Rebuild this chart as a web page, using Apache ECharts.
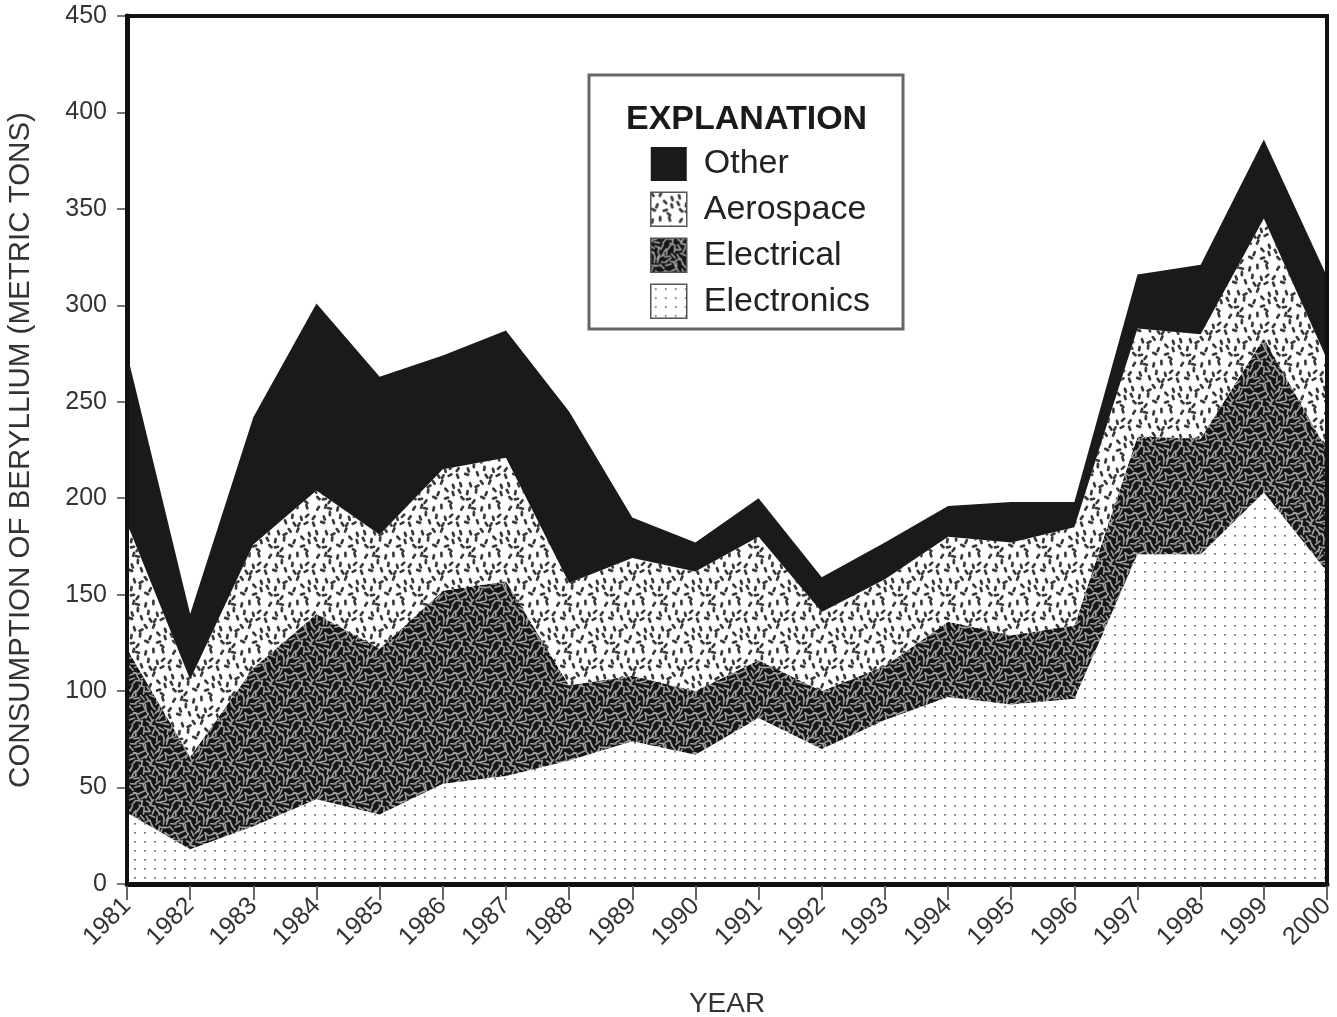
<!DOCTYPE html>
<html>
<head>
<meta charset="utf-8">
<script src="https://cdn.jsdelivr.net/npm/echarts@6/dist/echarts.min.js"></script>
<style>
html,body{margin:0;padding:0;background:#fff;}
#chart{width:1337px;height:1017px;}
</style>
</head>
<body>
<div id="chart"></div>
<script>
// ---- data (metric tons) ----
const years = ['1981','1982','1983','1984','1985','1986','1987','1988','1989','1990',
               '1991','1992','1993','1994','1995','1996','1997','1998','1999','2000'];
const electronics = [37,18,30,44,36,52,56,64,74,67,86,70,85,97,93,96,171,171,203,162];
const electrical  = [85,48,82,96,86,100,101,39,34,33,30,30,28,39,36,38,61,60,80,63];
const aerospace   = [65,40,64,64,59,63,64,53,61,62,64,41,45,44,48,51,56,54,62,47];
const other       = [88,34,66,97,82,59,66,89,21,15,20,18,19,16,21,13,28,36,41,43];
const legendOrder = ['Other','Aerospace','Electrical','Electronics'];

// ---- layout constants ----
const GRID = {left:127, right:10, top:16, bottom:133};
const W = 1337, H = 1017;
const FONT = '"Liberation Sans", Arial, Helvetica, sans-serif';

// ---- textures (deterministic) ----
function hash(n){ const s = Math.sin(n*127.1 + 311.7)*43758.5453; return s - Math.floor(s); }
function dashTile(size, cell, bg, fg, len, width, seed){
  const c = document.createElement('canvas');
  c.width = size; c.height = size;
  const g = c.getContext('2d');
  g.fillStyle = bg; g.fillRect(0,0,size,size);
  g.strokeStyle = fg; g.lineWidth = width; g.lineCap = 'round';
  const n = size/cell; let k = seed;
  for (let i=0;i<n;i++) for (let j=0;j<n;j++){
    const cx = i*cell + cell/2 + (hash(k++)-0.5)*cell*0.7;
    const cy = j*cell + cell/2 + (hash(k++)-0.5)*cell*0.7;
    const a = hash(k++)*Math.PI;
    const dx = Math.cos(a)*len/2, dy = Math.sin(a)*len/2;
    for (const ox of [-size,0,size]) for (const oy of [-size,0,size]){
      g.beginPath(); g.moveTo(cx+ox-dx, cy+oy-dy); g.lineTo(cx+ox+dx, cy+oy+dy); g.stroke();
    }
  }
  return c;
}
function dotTile(){
  const c = document.createElement('canvas');
  c.width = 10; c.height = 9;
  const g = c.getContext('2d');
  g.fillStyle = '#fff'; g.fillRect(0,0,10,9);
  g.fillStyle = '#777'; g.fillRect(4,4,2,1.6);
  return c;
}
const patElectronics = {image: dotTile(), repeat:'repeat'};
const patElectrical  = {image: dashTile(40,5,'#161616','#a0a0a0',5.5,1.6,11), repeat:'repeat'};
const patAerospace   = {image: dashTile(48,8,'#ffffff','#3a3a3a',3.2,2.7,977), repeat:'repeat'};
const fills = {Electronics: patElectronics, Electrical: patElectrical, Aerospace: patAerospace, Other: '#1a1a1a'};

function areaSeries(name, values){
  return {
    name, type:'line', stack:'total', data: values,
    symbol:'none', showSymbol:false,
    lineStyle:{width:0, opacity:0},
    itemStyle:{color: fills[name]},
    areaStyle:{color: fills[name], opacity:1},
    emphasis:{disabled:true}
  };
}

const chart = echarts.init(document.getElementById('chart'), null, {renderer:'canvas'});
chart.setOption({
  animation:false,
  backgroundColor:'#fff',
  title:{
    text:'EXPLANATION', left:621, top:98, z:10,
    textStyle:{fontFamily:FONT, fontSize:34, fontWeight:'bold', color:'#1a1a1a'}
  },
  legend:{
    orient:'vertical', left:589, top:75, selectedMode:false,
    padding:[72,33,10,61],
    borderColor:'#666', borderWidth:3, backgroundColor:'#fff',
    itemWidth:36, itemHeight:34, itemGap:10.5,
    icon:'rect',
    textStyle:{fontFamily:FONT, fontSize:34, color:'#222', padding:[0,0,0,12]},
    data: legendOrder.map(n => ({
      name:n, icon:'rect',
      itemStyle:{color: fills[n], borderColor: n==='Other' ? '#1a1a1a' : '#555', borderWidth: n==='Other'?0:1.5}
    }))
  },
  grid:{left:GRID.left, right:GRID.right, top:GRID.top, bottom:GRID.bottom, show:false,
        containLabel:false, outerBoundsMode:'none'},
  xAxis:{
    type:'category', data:years, boundaryGap:false,
    name:'YEAR', nameLocation:'middle', nameGap:106,
    nameTextStyle:{fontFamily:FONT, fontSize:28, color:'#333'},
    axisLine:{show:true, lineStyle:{color:'#111', width:5}},
    axisTick:{show:true, inside:false, length:16, lineStyle:{color:'#666', width:2}, alignWithLabel:true},
    axisLabel:{rotate:45, margin:18, fontFamily:FONT, fontSize:25, color:'#333', interval:0},
    splitLine:{show:false}
  },
  yAxis:{
    type:'value', min:0, max:450, interval:50,
    name:'CONSUMPTION OF BERYLLIUM (METRIC TONS)', nameLocation:'middle', nameGap:91,
    nameTextStyle:{fontFamily:FONT, fontSize:29.5, color:'#333'},
    axisLine:{show:true, lineStyle:{color:'#111', width:5}},
    axisTick:{show:true, inside:false, length:10, lineStyle:{color:'#777', width:2}},
    axisLabel:{margin:20, fontFamily:FONT, fontSize:25, color:'#333'},
    splitLine:{show:false}
  },
  graphic:[{
    type:'rect', z:100, silent:true,
    shape:{x:GRID.left, y:GRID.top, width:W-GRID.left-GRID.right, height:H-GRID.top-GRID.bottom},
    style:{fill:null, stroke:'#111', lineWidth:4}
  }],
  series:[
    areaSeries('Electronics', electronics),
    areaSeries('Electrical', electrical),
    areaSeries('Aerospace', aerospace),
    areaSeries('Other', other)
  ]
});
</script>
</body>
</html>
